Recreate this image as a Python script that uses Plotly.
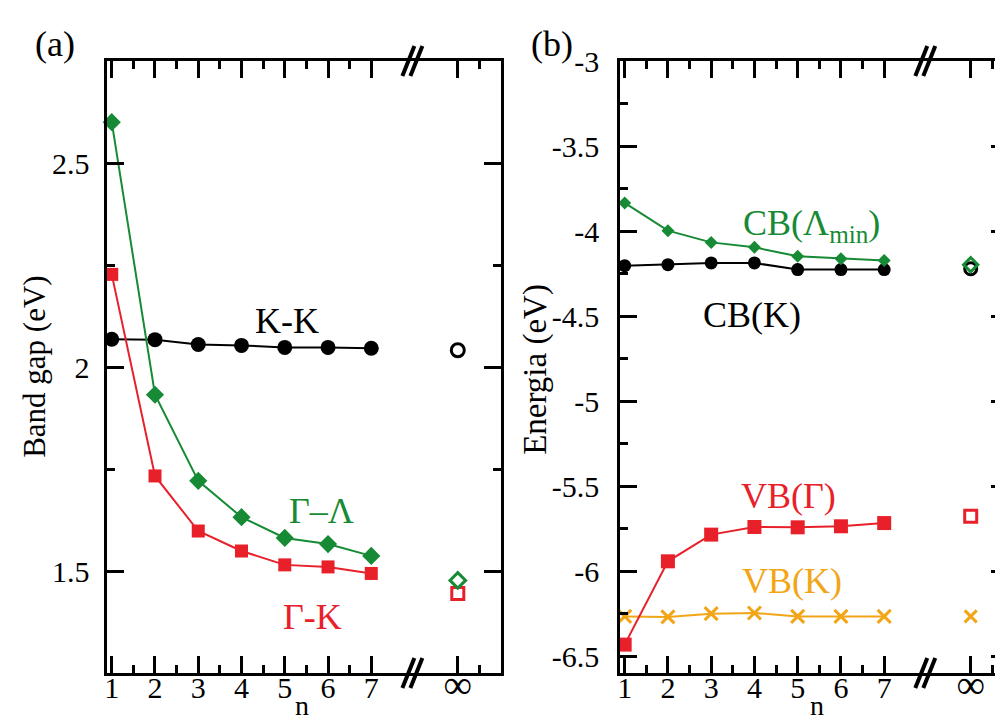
import plotly.graph_objects as go

# ---------------- data ----------------
n_vals = [1, 2, 3, 4, 5, 6, 7]
n_inf = 9  # position used for the "infinity" (bulk) point
x_tick_vals = [1, 2, 3, 4, 5, 6, 7, 9]
x_tick_text = ["1", "2", "3", "4", "5", "6", "7", "<span style='font-size:40px'>∞</span>"]

# panel (a) band gaps (eV)
gap_GL = [2.60, 1.932, 1.721, 1.632, 1.581, 1.566, 1.537]
gap_GL_inf = 1.477
gap_GK = [2.227, 1.733, 1.598, 1.549, 1.515, 1.510, 1.494]
gap_GK_inf = 1.445
gap_KK = [2.068, 2.067, 2.055, 2.053, 2.048, 2.048, 2.046]
gap_KK_inf = 2.041

# panel (b) band edges (eV)
cb_L = [-3.835, -3.998, -4.067, -4.096, -4.149, -4.163, -4.173]
cb_L_inf = -4.198
cb_K = [-4.204, -4.198, -4.188, -4.188, -4.227, -4.227, -4.227]
cb_K_inf = -4.222
vb_G = [-6.433, -5.943, -5.786, -5.741, -5.743, -5.737, -5.718]
vb_G_inf = -5.678
vb_K = [-6.267, -6.270, -6.251, -6.247, -6.267, -6.267, -6.267]
vb_K_inf = -6.267

ya_major = [1.5, 2.0, 2.5]
ya_labels = ["1.5", "2", "2.5"]
ya_minor = [1.25, 1.75, 2.25, 2.75]
yb_major = [-3, -3.5, -4, -4.5, -5, -5.5, -6, -6.5]
yb_labels = ["-3", "-3.5", "-4", "-4.5", "-5", "-5.5", "-6", "-6.5"]
yb_minor = [-3.25, -3.75, -4.25, -4.75, -5.25, -5.75, -6.25]
x_minor = [1.5, 2.5, 3.5, 4.5, 5.5, 6.5, 9.5]

GREEN = "#178a35"
RED = "#e8202a"
ORANGE = "#f2a516"
BLACK = "#000000"
FONT = "Liberation Serif"

W, H = 1003, 719
TOP, BOT = 53, 665
PH = BOT - TOP
fig = go.Figure()


def line_trace(x, y, color, symbol, size, xa, ya, mlw=0):
    return go.Scatter(x=x, y=y, mode="lines+markers", xaxis=xa, yaxis=ya,
                      line=dict(color=color, width=2),
                      marker=dict(symbol=symbol, size=size, color=color,
                                  line=dict(width=mlw, color=color)),
                      showlegend=False, cliponaxis=False)


def open_trace(x, y, color, symbol, size, xa, ya, lw=2.5):
    return go.Scatter(x=[x], y=[y], mode="markers", xaxis=xa, yaxis=ya,
                      marker=dict(symbol=symbol, size=size, color=color,
                                  line=dict(width=lw, color=color)),
                      showlegend=False, cliponaxis=False)


# ---------------- panel (a) ----------------
fig.add_trace(line_trace(n_vals, gap_KK, BLACK, "circle", 15, "x", "y"))
fig.add_trace(line_trace(n_vals, gap_GK, RED, "square", 13, "x", "y"))
fig.add_trace(line_trace(n_vals, gap_GL, GREEN, "diamond", 14, "x", "y"))
fig.add_trace(open_trace(n_inf, gap_KK_inf, BLACK, "circle-open", 13, "x", "y", 3))
fig.add_trace(open_trace(n_inf, gap_GK_inf, RED, "square-open", 12, "x", "y", 3))
fig.add_trace(open_trace(n_inf, gap_GL_inf, GREEN, "diamond-open", 12, "x", "y", 3))

# ---------------- panel (b) ----------------
fig.add_trace(line_trace(n_vals, cb_K, BLACK, "circle", 13, "x2", "y2"))
fig.add_trace(line_trace(n_vals, cb_L, GREEN, "diamond", 10, "x2", "y2"))
fig.add_trace(line_trace(n_vals, vb_K, ORANGE, "x-thin", 13, "x2", "y2", mlw=3))
fig.add_trace(line_trace(n_vals, vb_G, RED, "square", 14, "x2", "y2"))
fig.add_trace(open_trace(n_inf, cb_K_inf, BLACK, "circle-open", 12, "x2", "y2", 3))
fig.add_trace(open_trace(n_inf, cb_L_inf, GREEN, "diamond-open", 11, "x2", "y2", 3))
fig.add_trace(open_trace(n_inf, vb_G_inf, RED, "square-open", 12, "x2", "y2", 3))
fig.add_trace(open_trace(n_inf, vb_K_inf, ORANGE, "x-thin", 12, "x2", "y2", 3))

px_per_unit = 396 / 9.1
xb_max = 0.9 + (W - 613) / px_per_unit

tickfont = dict(family=FONT, size=30, color="black")
minor_common = dict(ticks="inside", ticklen=8, tickwidth=3, tickcolor="black",
                    showgrid=False, tickmode="array")

common_x = dict(showgrid=False, zeroline=False, showline=True, linecolor="black",
                linewidth=3, ticks="inside", ticklen=17, tickwidth=3, tickcolor="black",
                tickmode="array", tickvals=x_tick_vals, ticktext=x_tick_text,
                tickfont=tickfont, mirror="ticks", ticklabelstandoff=-14,
                minor=dict(tickvals=x_minor, **minor_common))

common_y = dict(domain=[0, 1], showgrid=False, zeroline=False, showline=True,
                linecolor="black", linewidth=3, ticks="inside", ticklen=17,
                tickwidth=3, tickcolor="black", tickmode="array", tickfont=tickfont,
                mirror="ticks")

fig.update_layout(
    width=W, height=H,
    margin=dict(l=0, r=0, t=TOP, b=H - BOT),
    paper_bgcolor="white", plot_bgcolor="white",
    font=dict(family=FONT, color="black"),
    xaxis=dict(domain=[97 / W, 493 / W], range=[0.9, 10], anchor="y", **common_x),
    xaxis2=dict(domain=[613 / W, 1.0], range=[0.9, xb_max], anchor="y2", **common_x),
    yaxis=dict(range=[1.25, 2.75], anchor="x", tickvals=ya_major, ticktext=ya_labels,
               ticklabelstandoff=9,
               minor=dict(tickvals=ya_minor, **minor_common), **common_y),
    yaxis2=dict(range=[-6.6, -3.0], anchor="x2", tickvals=yb_major, ticktext=yb_labels,
                ticklabelstandoff=12,
                minor=dict(tickvals=yb_minor, **minor_common), **common_y),
)


def py(pix):
    """pixel row (from top) -> paper fraction"""
    return (BOT - pix) / PH


# ---------------- annotations ----------------
lab = 36
ann = [
    dict(text="K-K", x=5.05, y=2.113, xref="x", yref="y", font=dict(size=lab, color=BLACK)),
    dict(text="Γ–Λ", x=5.85, y=1.648, xref="x", yref="y", font=dict(size=lab, color=GREEN)),
    dict(text="Γ-K", x=5.64, y=1.387, xref="x", yref="y", font=dict(size=lab, color=RED)),
    dict(text="CB(Λ<sub>min</sub>)", x=5.32, y=-3.97, xref="x2", yref="y2",
         font=dict(size=lab, color=GREEN)),
    dict(text="CB(K)", x=3.94, y=-4.494, xref="x2", yref="y2", font=dict(size=lab, color=BLACK)),
    dict(text="VB(Γ)", x=4.79, y=-5.559, xref="x2", yref="y2", font=dict(size=lab, color=RED)),
    dict(text="VB(K)", x=4.86, y=-6.059, xref="x2", yref="y2", font=dict(size=lab, color=ORANGE)),
    # axis titles
    dict(text="Band gap (eV)", x=23 / W, y=py(358), xref="paper", yref="paper",
         textangle=-90, font=dict(size=31)),
    dict(text="Energia (eV)", x=527 / W, y=py(361), xref="paper", yref="paper",
         textangle=-90, font=dict(size=33)),
    dict(text="n", x=293 / W, y=py(714), xref="paper", yref="paper",
         yanchor="bottom", font=dict(size=28)),
    dict(text="n", x=811 / W, y=py(714), xref="paper", yref="paper",
         yanchor="bottom", font=dict(size=28)),
    # panel letters
    dict(text="(a)", x=44 / W, y=py(36), xref="paper", yref="paper", font=dict(size=36)),
    dict(text="(b)", x=544 / W, y=py(36), xref="paper", yref="paper", font=dict(size=36)),
]
for a in ann:
    a.setdefault("showarrow", False)
    a.setdefault("xanchor", "center")
    a.setdefault("yanchor", "middle")
    a.setdefault("borderpad", 0)
    a["font"].setdefault("family", FONT)
    a["font"].setdefault("color", "black")
fig.update_layout(annotations=ann)

# ---------------- axis-break marks "//" ----------------
shapes = []
for xr in ("x", "x2"):
    for ypos in (0.0, 1.0):
        for dx in (-4, 4):
            shapes.append(dict(type="line", xref=xr, yref="paper",
                               xsizemode="pixel", ysizemode="pixel",
                               xanchor=7.95, yanchor=ypos,
                               x0=dx - 6, y0=-15, x1=dx + 6, y1=15,
                               line=dict(color="black", width=4)))
fig.update_layout(shapes=shapes)

fig.write_html("out.html")
